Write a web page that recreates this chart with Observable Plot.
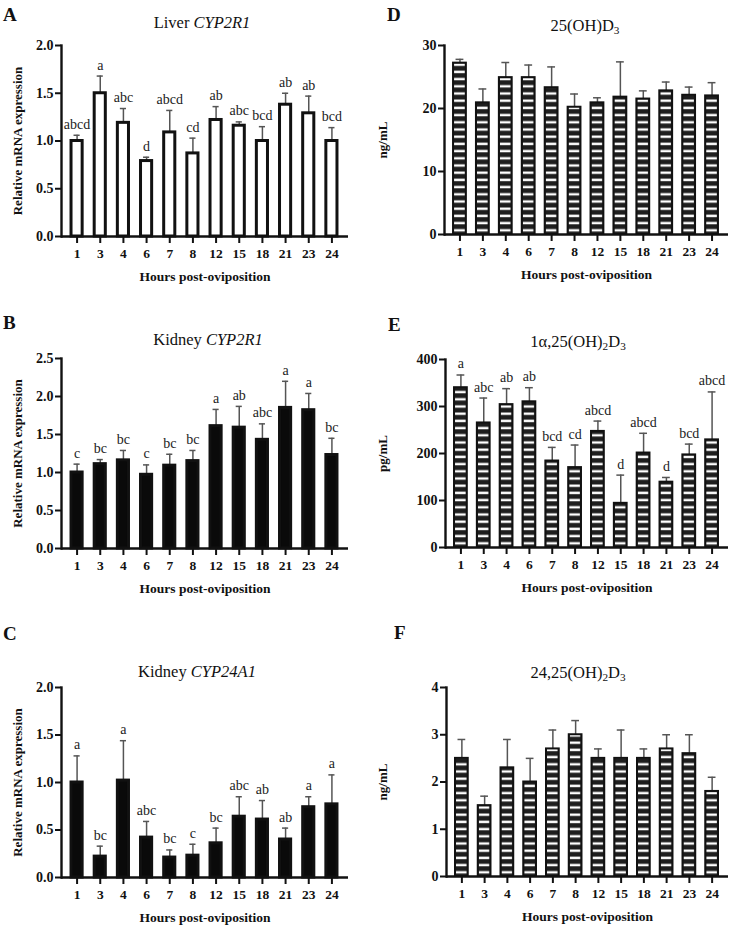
<!DOCTYPE html>
<html><head><meta charset="utf-8">
<script src="https://cdn.jsdelivr.net/npm/d3@7"></script>
<script src="https://cdn.jsdelivr.net/npm/@observablehq/plot@0.6"></script>
<style>
body{margin:0;background:#fff;font-family:"Liberation Serif","Times New Roman",serif;color:#111;}
#fig{position:relative;width:731px;height:925px;overflow:hidden;background:#fff;}
.chart{position:absolute;}
.letter{position:absolute;font-weight:bold;font-size:19px;line-height:1;z-index:2;}
.title{position:absolute;font-size:16.5px;line-height:1;transform:translate(-50%,-50%);white-space:nowrap;z-index:2;}
.title sub{font-size:0.68em;vertical-align:-0.3em;line-height:0;}
</style></head><body><div id="fig"></div>
<script>
// ---- data ----
const hours = ["1","3","4","6","7","8","12","15","18","21","23","24"];

const liverCyp2r1Mean = [1.00,1.50,1.19,0.79,1.09,0.87,1.22,1.16,1.00,1.38,1.29,1.00];
const liverCyp2r1SD   = [0.06,0.18,0.15,0.04,0.23,0.16,0.14,0.04,0.15,0.12,0.18,0.14];
const liverCyp2r1Sig  = ["abcd","a","abc","d","abcd","cd","ab","abc","bcd","ab","ab","bcd"];

const kidneyCyp2r1Mean = [1.00,1.11,1.16,0.97,1.09,1.15,1.61,1.59,1.43,1.85,1.82,1.23];
const kidneyCyp2r1SD   = [0.11,0.06,0.13,0.13,0.15,0.14,0.22,0.28,0.21,0.35,0.22,0.22];
const kidneyCyp2r1Sig  = ["c","bc","bc","c","bc","bc","a","ab","abc","a","a","bc"];

const kidneyCyp24a1Mean = [1.00,0.22,1.02,0.42,0.21,0.23,0.36,0.64,0.61,0.40,0.74,0.77];
const kidneyCyp24a1SD   = [0.28,0.11,0.42,0.17,0.08,0.12,0.16,0.21,0.20,0.12,0.11,0.31];
const kidneyCyp24a1Sig  = ["a","bc","a","abc","bc","c","bc","abc","ab","ab","a","a"];

const d25Mean = [27.2,20.9,24.9,24.9,23.3,20.2,20.9,21.8,21.5,22.8,22.1,22.0];
const d25SD   = [0.6,2.2,2.4,2.0,3.3,2.1,0.8,5.6,1.3,1.4,1.3,2.1];

const d125Mean = [340,265,304,310,184,170,247,94,201,139,197,229];
const d125SD   = [27,53,34,30,29,48,22,60,42,10,23,102];
const d125Sig  = ["a","abc","ab","ab","bcd","cd","abcd","d","abcd","d","bcd","abcd"];

const d2425Mean = [2.5,1.5,2.3,2.0,2.7,3.0,2.5,2.5,2.5,2.7,2.6,1.8];
const d2425SD   = [0.4,0.2,0.6,0.5,0.4,0.3,0.2,0.6,0.2,0.3,0.4,0.3];

const ticksRel2  = [0,0.5,1,1.5,2];
const ticksRel25 = [0,0.5,1,1.5,2,2.5];
const ticksD25   = [0,10,20,30];
const ticksD125  = [0,100,200,300,400];
const ticksD2425 = [0,1,2,3,4];

const xTitle = "Hours post-oviposition";

// ---- panels (layout) ----
const panels = [
  {letter:"A", lx:3, ly:5, title:"Liver <i>CYP2R1</i>", tx:202, ty:23,
   x0:0, w:365, left:61, right:348, top:45, bottom:236,
   mean:liverCyp2r1Mean, sd:liverCyp2r1SD, sig:liverCyp2r1Sig, ticks:ticksRel2, fmt:".1f",
   ylabel:"Relative mRNA expression", style:"open"},
  {letter:"B", lx:3, ly:313, title:"Kidney <i>CYP2R1</i>", tx:208, ty:340,
   x0:0, w:365, left:61, right:348, top:358, bottom:548,
   mean:kidneyCyp2r1Mean, sd:kidneyCyp2r1SD, sig:kidneyCyp2r1Sig, ticks:ticksRel25, fmt:".1f",
   ylabel:"Relative mRNA expression", style:"solid"},
  {letter:"C", lx:3, ly:624, title:"Kidney <i>CYP24A1</i>", tx:197, ty:672,
   x0:0, w:365, left:61, right:348, top:687, bottom:877,
   mean:kidneyCyp24a1Mean, sd:kidneyCyp24a1SD, sig:kidneyCyp24a1Sig, ticks:ticksRel2, fmt:".1f",
   ylabel:"Relative mRNA expression", style:"solid"},
  {letter:"D", lx:387, ly:5, title:"25(OH)D<sub>3</sub>", tx:585, ty:26,
   x0:365, w:366, left:444, right:728, top:45, bottom:234,
   mean:d25Mean, sd:d25SD, sig:null, ticks:ticksD25, fmt:"d",
   ylabel:"ng/mL", style:"striped"},
  {letter:"E", lx:388, ly:315, title:"1α,25(OH)<sub>2</sub>D<sub>3</sub>", tx:578, ty:342,
   x0:365, w:366, left:445, right:728, top:359, bottom:547,
   mean:d125Mean, sd:d125SD, sig:d125Sig, ticks:ticksD125, fmt:"d",
   ylabel:"pg/mL", style:"striped"},
  {letter:"F", lx:394, ly:623, title:"24,25(OH)<sub>2</sub>D<sub>3</sub>", tx:578, ty:673,
   x0:365, w:366, left:446, right:728, top:687, bottom:876,
   mean:d2425Mean, sd:d2425SD, sig:null, ticks:ticksD2425, fmt:"d",
   ylabel:"ng/mL", style:"striped"}
];

const fig = document.getElementById("fig");
const FONT = "Liberation Serif, Times New Roman, serif";

panels.forEach((p, k) => {
  const data = hours.map((h, i) => ({hour: h, mean: p.mean[i], upper: p.mean[i] + p.sd[i], sig: p.sig ? p.sig[i] : ""}));
  const mt = 24, mb = 52;
  const height = mt + (p.bottom - p.top) + mb;
  const striped = p.style === "striped";
  const pid = "stripes" + k;
  const padIn = striped ? 0.44 : 0.52;
  const barFill = p.style === "open" ? "white" : striped ? `url(#${pid})` : "#0a0a0a";
  const barSW = striped ? 2 : 3;
  const yMax = p.ticks[p.ticks.length - 1];
  const marks = [
    Plot.ruleX(data, {x: "hour", y1: "mean", y2: "upper", stroke: "#555", strokeWidth: 1.5}),
    Plot.tickY(data, {x: "hour", y: "upper", stroke: "#555", strokeWidth: 1.5, insetLeft: 2.5, insetRight: 2.5}),
    Plot.barY(data, {x: "hour", y: "mean", fill: barFill, stroke: "#111", strokeWidth: barSW}),
    Plot.ruleY([0], {stroke: "#111", strokeWidth: 2.4}),
    Plot.frame({anchor: "left", stroke: "#111", strokeWidth: 2.4}),
    Plot.axisY({ticks: p.ticks, tickFormat: d3.format(p.fmt), tickSize: 6, tickPadding: 2, strokeWidth: 2,
      fontSize: 14, fontWeight: "bold", fill: "#111", label: null}),
    Plot.axisY({ticks: [], tickSize: 0, fontSize: 13, fontWeight: "bold", fill: "#111",
      label: p.ylabel, labelAnchor: "center", labelArrow: "none", labelOffset: p.left - p.x0 - 12}),
    Plot.axisX({tickSize: 7, tickPadding: 5, strokeWidth: 2, fontSize: 13.5, fontWeight: "bold", fill: "#111",
      label: xTitle, labelAnchor: "center", labelArrow: "none", labelOffset: 44})
  ];
  if (p.sig) marks.push(Plot.text(data, {x: "hour", y: "upper", text: "sig", dy: -11, fontSize: 14, fill: "#222"}));
  const chart = Plot.plot({
    width: p.w, height,
    marginLeft: p.left - p.x0, marginRight: p.x0 + p.w - p.right, marginTop: mt, marginBottom: mb,
    style: {fontFamily: FONT, fontSize: "13px", background: "transparent", overflow: "visible", color: "#111"},
    x: {type: "band", domain: hours, paddingInner: padIn, paddingOuter: padIn / 2, insetLeft: 4, insetRight: 5, round: false, label: null},
    y: {domain: [0, yMax], label: null},
    marks
  });
  if (striped) {
    const xs = chart.scale("x"), ys = chart.scale("y");
    const period = 7.2;
    const pat = d3.select(chart).insert("defs", ":first-child").append("pattern")
      .attr("id", pid).attr("patternUnits", "userSpaceOnUse")
      .attr("x", xs.apply(hours[0])).attr("y", ys.apply(0))
      .attr("width", xs.step).attr("height", period);
    pat.append("rect").attr("width", xs.step).attr("height", period).attr("fill", "#1e1e1e");
    pat.append("rect").attr("x", 1).attr("y", 2.3).attr("width", xs.bandwidth - 2).attr("height", 2.4).attr("fill", "#fff");
  }
  chart.classList.add("chart");
  chart.style.left = p.x0 + "px";
  chart.style.top = (p.top - mt) + "px";
  fig.appendChild(chart);

  const L = document.createElement("div");
  L.className = "letter"; L.textContent = p.letter;
  L.style.left = p.lx + "px"; L.style.top = p.ly + "px";
  fig.appendChild(L);
  const T = document.createElement("div");
  T.className = "title"; T.innerHTML = p.title;
  T.style.left = p.tx + "px"; T.style.top = p.ty + "px";
  fig.appendChild(T);
});
</script></body></html>
